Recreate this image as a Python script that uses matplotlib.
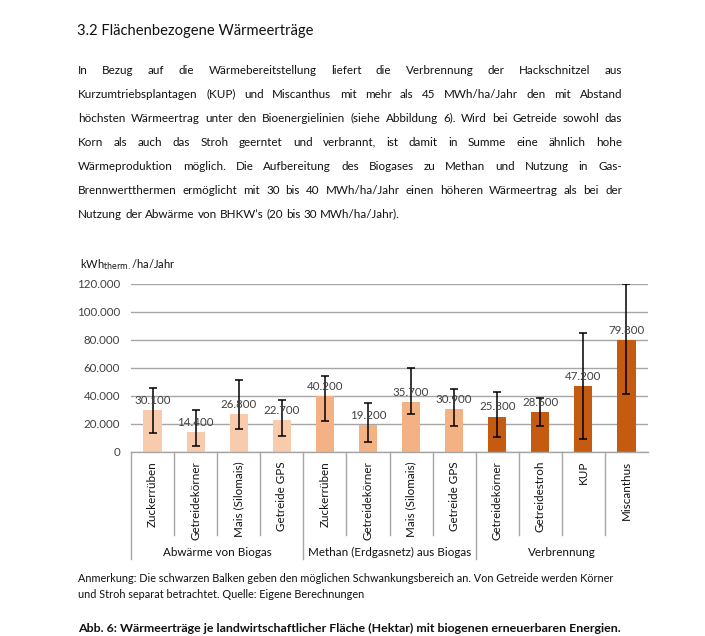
import matplotlib

matplotlib.use("Agg")
import matplotlib.pyplot as plt

plt.rcParams["font.family"] = ["Lato", "DejaVu Sans"]

W, H = 705, 636

categories = [
    "Zuckerrüben", "Getreidekörner", "Mais (Silomais)", "Getreide GPS",
    "Zuckerrüben", "Getreidekörner", "Mais (Silomais)", "Getreide GPS",
    "Getreidekörner", "Getreidestroh", "KUP", "Miscanthus",
]
groups = ["Abwärme von Biogas", "Methan (Erdgasnetz) aus Biogas", "Verbrennung"]
group_sizes = [4, 4, 4]
values = [30100, 14400, 26800, 22700, 40200, 19200, 35700, 30900, 25300, 28600, 47200, 79800]
err_low = [13800, 4300, 16600, 11400, 22400, 7100, 26900, 18800, 10700, 18800, 9500, 41400]
err_high = [45700, 29700, 51100, 36900, 54000, 35200, 60000, 44700, 42600, 38300, 85200, 120000]
group_colors = ["#F8CBAD", "#F4B183", "#C55A11"]
y_ticks = [0, 20000, 40000, 60000, 80000, 100000, 120000]

heading = "3.2 Flächenbezogene Wärmeerträge"
paragraph = [
    "In Bezug auf die Wärmebereitstellung liefert die Verbrennung der Hackschnitzel aus",
    "Kurzumtriebsplantagen (KUP) und Miscanthus mit mehr als 45 MWh/ha/Jahr den mit Abstand",
    "höchsten Wärmeertrag unter den Bioenergielinien (siehe Abbildung 6). Wird bei Getreide sowohl das",
    "Korn als auch das Stroh geerntet und verbrannt, ist damit in Summe eine ähnlich hohe",
    "Wärmeproduktion möglich. Die Aufbereitung des Biogases zu Methan und Nutzung in Gas-",
    "Brennwertthermen ermöglicht mit 30 bis 40 MWh/ha/Jahr einen höheren Wärmeertrag als bei der",
    "Nutzung der Abwärme von BHKW’s (20 bis 30 MWh/ha/Jahr).",
]
note = [
    "Anmerkung: Die schwarzen Balken geben den möglichen Schwankungsbereich an. Von Getreide werden Körner",
    "und Stroh separat betrachtet. Quelle: Eigene Berechnungen",
]
caption = "Abb. 6: Wärmeerträge je landwirtschaftlicher Fläche (Hektar) mit biogenen erneuerbaren Energien."


def fx(px):
    return px / W


def fy(py):
    return 1 - py / H


def fmt(v):
    return f"{v:,}".replace(",", ".")


def justified_line(fig, line, y, x0, x1, size, justify):
    words = line.split(" ")
    renderer = fig.canvas.get_renderer()
    texts = [fig.text(0, fy(y), w, fontsize=size, va="center", ha="left", color="#111111") for w in words]
    widths = [t.get_window_extent(renderer).width for t in texts]
    if justify and len(words) > 1:
        gap = (x1 - x0 - sum(widths)) / (len(words) - 1)
    else:
        a = fig.text(0, 0, "a a", fontsize=size)
        b = fig.text(0, 0, "aa", fontsize=size)
        gap = a.get_window_extent(renderer).width - b.get_window_extent(renderer).width
        a.remove()
        b.remove()
    x = x0
    for t, w in zip(texts, widths):
        t.set_x(fx(x))
        x += w + gap


fig = plt.figure(figsize=(W / 100, H / 100), dpi=100)
fig.patch.set_facecolor("white")

fig.text(fx(77), fy(31), heading, fontsize=10.6, va="center", ha="left", color="#111111")

line_y = [70, 94, 118, 142, 166, 190, 214]
for i, (line, y) in enumerate(zip(paragraph, line_y)):
    justified_line(fig, line, y, 78, 622, 8.4, justify=i < len(paragraph) - 1)

# chart
ax = fig.add_axes([fx(131), fy(452), fx(648) - fx(131), fy(284) - fy(452)])
n = len(categories)
xs = list(range(n))
colors = []
for c, size in zip(group_colors, group_sizes):
    colors += [c] * size

ax.bar(xs, values, width=0.42, color=colors, zorder=2)
yerr = [[v - lo for v, lo in zip(values, err_low)], [hi - v for v, hi in zip(values, err_high)]]
ax.errorbar(xs, values, yerr=yerr, fmt="none", ecolor="black", elinewidth=1.1, capsize=3, capthick=1.1, zorder=3)
for x, v in zip(xs, values):
    ax.annotate(fmt(v), (x, v), xytext=(0, 3), textcoords="offset points",
                ha="center", va="bottom", fontsize=8.3, color="#404040", zorder=4)

ax.set_xlim(-0.5, n - 0.5)
ax.set_ylim(0, 120000)
ax.set_yticks(y_ticks)
ax.set_yticklabels([fmt(t) for t in y_ticks], fontsize=8.3, color="#404040")
ax.tick_params(axis="y", length=0, pad=8)
ax.set_xticks([])
ax.grid(axis="y", color="#A6A6A6", linewidth=1.0, zorder=0)
for s in ["top", "right", "left"]:
    ax.spines[s].set_visible(False)
ax.spines["bottom"].set_color("#A6A6A6")
ax.spines["bottom"].set_linewidth(1.0)

trans = ax.get_xaxis_transform()
ax_h = 452 - 284
y_inner = -(535 - 452) / ax_h
y_group = -(559 - 452) / ax_h
y_cat = -(461 - 452) / ax_h
y_glabel = -(552 - 452) / ax_h

for x, cat in zip(xs, categories):
    ax.text(x, y_cat, cat, transform=trans, rotation=90, ha="center", va="top",
            fontsize=8.4, color="#111111", clip_on=False)

start = 0
bounds = [-0.5]
for size in group_sizes:
    start += size
    bounds.append(start - 0.5)
for b in range(n):
    xb = b - 0.5
    ytop = y_group if xb in bounds else y_inner
    ax.plot([xb, xb], [0, ytop], transform=trans, color="#A6A6A6", linewidth=1.0, clip_on=False)
start = 0
for g, size in zip(groups, group_sizes):
    ax.text(start + (size - 1) / 2, y_glabel, g, transform=trans, ha="center", va="center",
            fontsize=8.4, color="#111111", clip_on=False)
    start += size

fig.text(fx(80), fy(265), r"kWh$_{\mathrm{therm.}}$/ha/Jahr", fontsize=8, va="center", ha="left", color="#111111")

fig.text(fx(78), fy(578), note[0], fontsize=7.8, va="center", ha="left", color="#111111")
fig.text(fx(78), fy(595), note[1], fontsize=7.8, va="center", ha="left", color="#111111")
fig.text(fx(78), fy(628), caption, fontsize=8.9, fontweight="bold", va="center", ha="left", color="#111111")

fig.savefig("out.png", dpi=100)
